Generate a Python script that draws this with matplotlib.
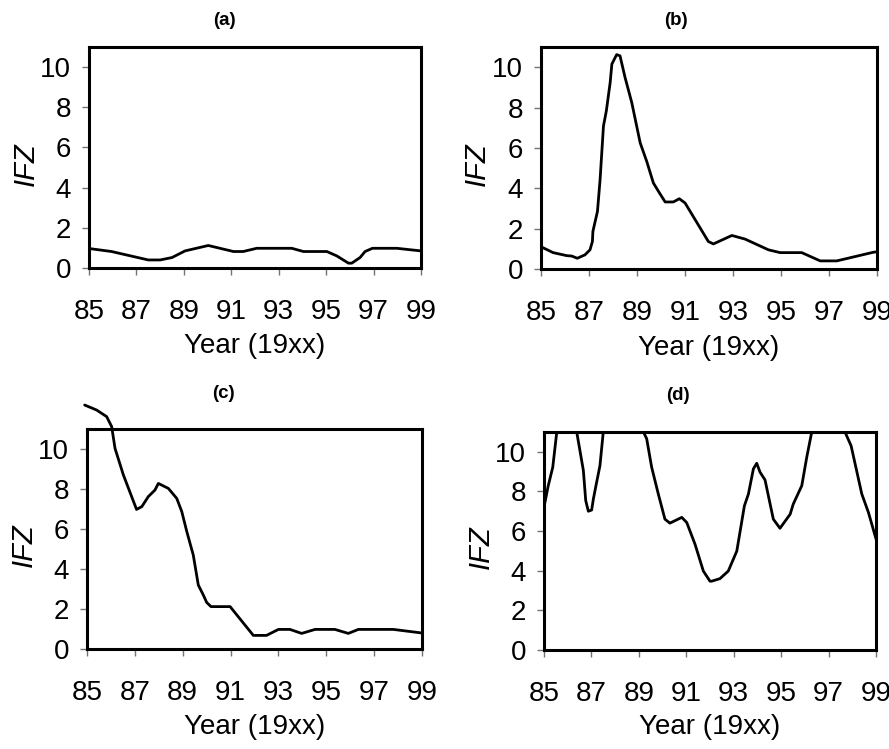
import matplotlib
matplotlib.use("Agg")
import matplotlib.pyplot as plt

plt.rcParams['font.family'] = ['Liberation Sans', 'DejaVu Sans']

# Values (year 19xx, IFZ)
years_a = [85.0, 85.95, 87.5, 88.0, 88.5, 89.05, 90.03, 91.09, 91.5, 92.07,
           93.55, 94.04, 95.03, 95.45, 95.94, 96.08, 96.43, 96.64, 96.95,
           97.98, 99.0]
ifz_a = [0.97, 0.82, 0.4, 0.4, 0.52, 0.85, 1.12, 0.82, 0.82, 0.98,
         0.98, 0.82, 0.82, 0.6, 0.24, 0.24, 0.52, 0.82, 0.98,
         0.98, 0.85]

years_b = [85.0, 85.5, 86.07, 86.28, 86.51, 86.83, 87.04, 87.14, 87.16, 87.35,
           87.46, 87.6, 87.72, 87.88, 87.95, 88.15, 88.29, 88.5, 88.78, 89.13,
           89.4, 89.68, 89.89, 90.17, 90.51, 90.76, 91.0, 91.97, 92.18, 92.95,
           93.5, 94.47, 94.96, 95.86, 96.63, 97.32, 98.85, 99.0]
ifz_b = [1.1, 0.81, 0.66, 0.64, 0.53, 0.7, 0.95, 1.36, 1.86, 2.85,
         4.43, 7.08, 7.83, 9.24, 10.15, 10.62, 10.56, 9.49, 8.24, 6.25,
         5.34, 4.26, 3.85, 3.32, 3.32, 3.48, 3.27, 1.36, 1.24, 1.66,
         1.48, 0.95, 0.81, 0.81, 0.40, 0.40, 0.83, 0.85]

years_c = [84.9, 85.4, 85.82, 86.03, 86.17, 86.52, 87.07, 87.29, 87.56, 87.84,
           87.98, 88.4, 88.75, 88.96, 89.17, 89.44, 89.65, 89.86, 90.0, 90.18,
           90.98, 91.95, 92.5, 93.0, 93.48, 93.97, 94.53, 95.36, 95.92, 96.34,
           97.8, 99.0]
ifz_c = [12.2, 11.95, 11.62, 11.12, 10.03, 8.7, 6.98, 7.12, 7.62, 7.95,
         8.28, 8.03, 7.53, 6.87, 5.87, 4.7, 3.2, 2.7, 2.33, 2.12,
         2.12, 0.68, 0.68, 0.98, 0.98, 0.78, 0.98, 0.98, 0.78, 0.98,
         0.98, 0.8]

years_d = [85.0, 85.18, 85.37, 85.54, 85.95, 86.38, 86.49, 86.66, 86.76, 86.87,
           87.01, 87.08, 87.19, 87.36, 87.5, 88.3, 89.19, 89.33, 89.54, 89.82,
           90.1, 90.31, 90.81, 91.02, 91.37, 91.72, 92.0, 92.07, 92.42, 92.77,
           93.13, 93.45, 93.62, 93.83, 93.97, 94.11, 94.32, 94.67, 94.95, 95.38,
           95.51, 95.87, 96.08, 96.29, 97.0, 97.69, 97.95, 98.4, 98.68, 99.0]
ifz_d = [7.2, 8.29, 9.22, 11.0, 13.5, 11.0, 10.24, 9.06, 7.54, 7.0,
         7.06, 7.6, 8.28, 9.3, 11.0, 15.0, 11.0, 10.66, 9.22, 7.87,
         6.6, 6.4, 6.69, 6.43, 5.33, 3.98, 3.47, 3.47, 3.6, 3.98,
         4.99, 7.27, 7.87, 9.14, 9.42, 8.97, 8.58, 6.6, 6.14, 6.85,
         7.36, 8.29, 9.73, 11.0, 13.5, 11.0, 10.3, 7.87, 6.94, 5.6]

x_ticks = list(range(85, 100, 2))
y_ticks = list(range(0, 11, 2))

panels = [
    # label, x, y, axes rect, title position, clip line to box
    ("(a)", years_a, ifz_a, [0.1001, 0.6422, 0.3735, 0.2951], (0.252, 0.972), True),
    ("(b)", years_b, ifz_b, [0.6086, 0.6409, 0.3780, 0.2964], (0.760, 0.972), True),
    ("(c)", years_c, ifz_c, [0.0979, 0.1335, 0.3768, 0.2937], (0.251, 0.4753), False),
    ("(d)", years_d, ifz_d, [0.6119, 0.1322, 0.3735, 0.2911], (0.763, 0.4726), True),
]

fig = plt.figure(figsize=(8.89, 7.49), dpi=100)

for label, xs, ys, rect, tpos, clip in panels:
    ax = fig.add_axes(rect)
    ax.plot(xs, ys, color='black', lw=2.0, solid_joinstyle='round',
            solid_capstyle='round', clip_on=clip)
    ax.set_xlim(85, 99)
    ax.set_ylim(0, 11)
    ax.set_xticks(x_ticks)
    ax.set_yticks(y_ticks)
    ax.tick_params(direction='out', length=5, width=1, color='0.45',
                   labelsize=20)
    ax.tick_params(axis='x', pad=17)
    ax.tick_params(axis='y', pad=8)
    for s in ax.spines.values():
        s.set_linewidth(2.2)

    ax.set_xlabel('Year (19xx)', fontsize=20)
    ax.xaxis.label.set_va('center')
    ax.xaxis.set_label_coords(0.5, -0.355)
    ax.set_ylabel('IFZ', fontsize=21, style='italic')
    ax.yaxis.label.set_va('center')
    ax.yaxis.set_label_coords(-0.19, 0.47)

    fig.text(tpos[0], tpos[1], label, ha='center', va='center',
             fontsize=13.5, fontweight='bold')

fig.savefig('out.png', dpi=100)
